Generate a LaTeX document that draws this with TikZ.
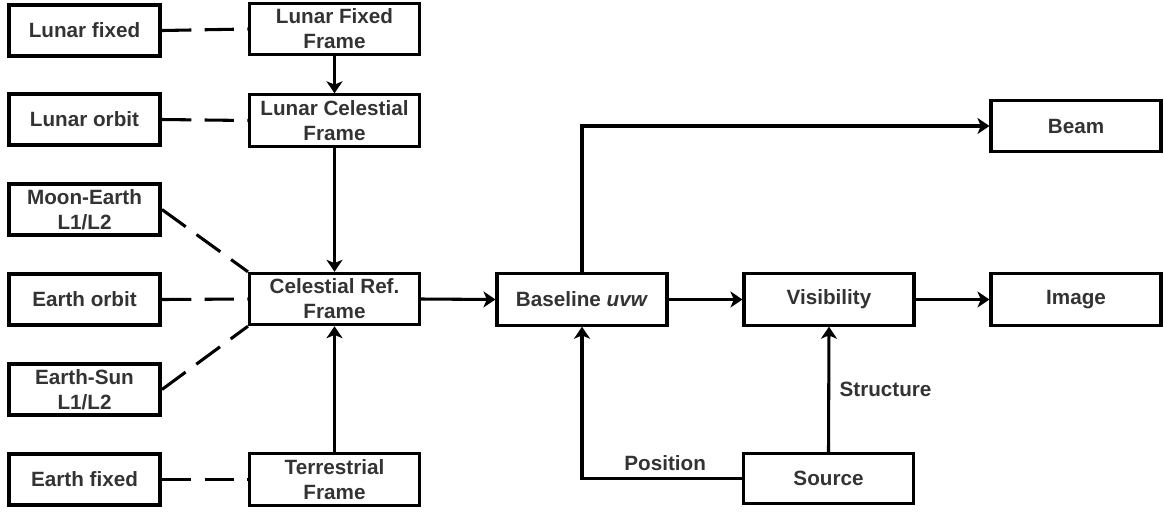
\documentclass[tikz,border=0pt]{standalone}
\usepackage{fontspec}
\setmainfont{Liberation Sans}
\usetikzlibrary{arrows.meta}
\definecolor{txt}{RGB}{51,51,51}
\tikzset{
  every node/.style={font=\fontsize{15.5}{18.75}\selectfont\bfseries, text=txt, align=center},
  leftbox/.style={draw=black, line width=3.2pt, minimum width=113pt, minimum height=38pt, inner sep=0pt},
  midbox/.style={draw=black, line width=2.3pt, minimum width=127.5pt, minimum height=38.5pt, inner sep=0pt},
  dashline/.style={draw=black, line width=2.3pt, dash pattern=on 22pt off 10pt},
  arr/.style={draw=black, line width=2.3pt, -{Stealth[length=9pt,width=12pt,inset=2.5pt]}},
}
\begin{document}
\begin{tikzpicture}[x=0.75pt,y=-0.75pt]
\useasboundingbox (0,0) rectangle (1164,512);
% left column
\node[leftbox] (lf) at (84.5,30.5) {Lunar fixed};
\node[leftbox] (lo) at (84.5,119.5) {Lunar orbit};
\node[leftbox] (me) at (84.5,209.5) {Moon-Earth\\L1/L2};
\node[leftbox] (eo) at (84.5,299.5) {Earth orbit};
\node[leftbox] (es) at (84.5,389.5) {Earth-Sun\\L1/L2};
\node[leftbox] (ef) at (84.5,479.5) {Earth fixed};
% middle column
\node[midbox] (lff) at (334.5,29) {Lunar Fixed\\Frame};
\node[midbox] (lcf) at (334.5,120.5) {Lunar Celestial\\Frame};
\node[midbox] (crf) at (334.5,299) {Celestial Ref.\\Frame};
\node[midbox] (tf) at (334.5,479.5) {Terrestrial\\Frame};
% right part
\node[midbox] (base) at (582,299.5) {Baseline \textit{uvw}};
\node[midbox] (vis) at (829,299.5) {Visibility};
\node[midbox, minimum height=37.5pt] (src) at (828.5,478.5) {Source};
\node[midbox] (beam) at (1076,126) {Beam};
\node[midbox] (img) at (1076,299.5) {Image};
% dashed links
\draw[dashline] (lf.east) -- (lff.west);
\draw[dashline] (lo.east) -- (lcf.west);
\draw[dashline] (me.east) -- (crf.north west);
\draw[dashline] (eo.east) -- (crf.west);
\draw[dashline] (es.east) -- (crf.south west);
\draw[dashline] (ef.east) -- (tf.west);
% arrows
\draw[arr] (lff.south) -- (lcf.north);
\draw[arr] (lcf.south) -- (crf.north);
\draw[arr] (tf.north) -- (crf.south);
\draw[arr] (crf.east) -- (base.west);
\draw[arr] (base.east) -- (vis.west);
\draw[arr] (vis.east) -- (img.west);
\draw[arr] (base.north) |- (beam.west);
\draw[arr] (src.north) -- node[right, inner sep=7pt] {Structure} (vis.south);
\draw[arr] (src.west) -| node[pos=0.24, above, inner sep=5pt] {Position} (base.south);
\end{tikzpicture}
\end{document}
